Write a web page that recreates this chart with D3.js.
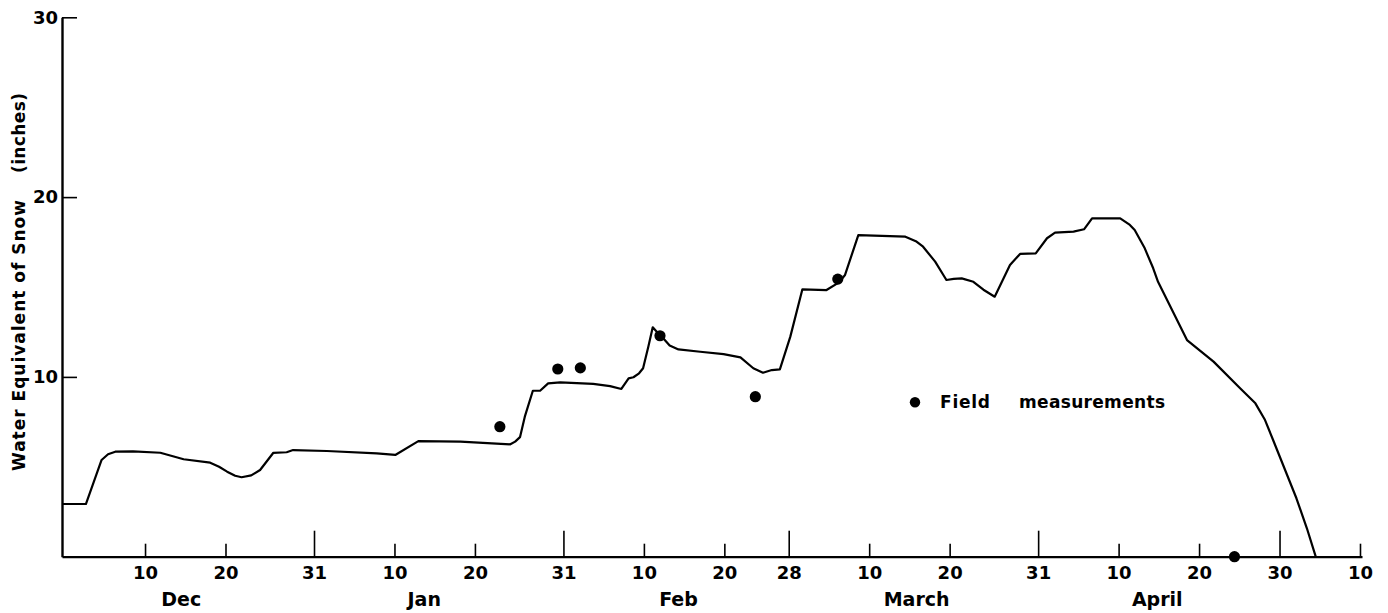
<!DOCTYPE html>
<html>
<head>
<meta charset="utf-8">
<script src="https://cdn.jsdelivr.net/npm/d3@7"></script>
<style>
  html, body { margin: 0; padding: 0; background: #fff; }
  svg { display: block; }
  text { font-family: "DejaVu Sans", sans-serif; font-weight: bold; fill: #000; }
</style>
</head>
<body>
<svg id="chart" width="1388" height="613"></svg>
<script>
// Snow water equivalent, winter 1950–51.
// Days are counted from 30 November (day 10 = 10 Dec, day 31 = 31 Dec, ...).
const sweDays = [
  -0.3, 2.65, 4.6, 5.4, 6.3, 8.5, 11.9, 14.8, 18.1, 19.2, 20.2, 21.2, 22.0, 23.2, 24.3,
  25.95, 27.6, 28.4, 32.6, 38.8, 41.1, 43.97, 49.2, 55.4, 56.0, 56.6, 57.2, 58.2, 59.1,
  60.1, 61.6, 65.7, 67.8, 69.2, 70.1, 70.7, 71.4, 71.9, 72.55, 73.1, 73.6, 74.4, 75.2,
  76.3, 79.0, 81.9, 84.0, 85.6, 86.8, 87.9, 88.9, 90.2, 91.7, 94.7, 96.2, 97.0, 98.65,
  104.5, 105.8, 106.7, 108.2, 109.6, 110.5, 111.5, 112.95, 114.2, 115.6, 117.5, 118.75,
  120.7, 122.1, 123.1, 125.4, 126.7, 127.7, 131.2, 132.4, 133.0, 134.2, 135.3, 135.9,
  139.5, 142.8, 146.1, 148.0, 149.2, 150.2, 153.1, 154.4, 155.5
];
const sweInches = [
  2.93, 2.93, 5.38, 5.70, 5.84, 5.86, 5.78, 5.42, 5.23, 5.00, 4.73, 4.50, 4.42, 4.52, 4.82,
  5.78, 5.81, 5.93, 5.88, 5.75, 5.66, 6.43, 6.40, 6.25, 6.40, 6.65, 7.79, 9.23, 9.23,
  9.64, 9.70, 9.61, 9.49, 9.33, 9.92, 9.98, 10.20, 10.48, 11.68, 12.76, 12.51, 12.15, 11.75,
  11.53, 11.40, 11.27, 11.09, 10.48, 10.23, 10.38, 10.42, 12.24, 14.87, 14.83, 15.24, 15.67, 17.89,
  17.80, 17.55, 17.24, 16.41, 15.39, 15.45, 15.48, 15.29, 14.85, 14.46, 16.22, 16.84,
  16.87, 17.71, 18.02, 18.08, 18.21, 18.82, 18.82, 18.45, 18.17, 17.20, 16.04, 15.29,
  12.05, 10.85, 9.37, 8.53, 7.60, 6.49, 3.25, 1.58, 0
];

// Snow-course field measurements
const fieldDays   = [54.1, 61.3, 64.1, 74.0, 85.85, 96.1, 145.4];
const fieldInches = [7.23, 10.44, 10.50, 12.29, 8.90, 15.44, 0];

// Date axis ticks
const tickDates  = ["1950-12-10", "1950-12-20", "1950-12-31", "1951-01-10", "1951-01-20", "1951-01-31",
                    "1951-02-10", "1951-02-20", "1951-02-28", "1951-03-10", "1951-03-20", "1951-03-31",
                    "1951-04-10", "1951-04-20", "1951-04-30", "1951-05-10"];
const tickLabels = ["10", "20", "31", "10", "20", "31", "10", "20", "28", "10", "20", "31", "10", "20", "30", "10"];

// Month names, placed near mid-month (day counts from 30 November)
const monthNames = ["Dec", "Jan", "Feb", "March", "April"];
const monthDays  = [14.5, 44.7, 76.3, 105.9, 135.8];

const yTicks = [10, 20, 30];

const seasonStart = Date.UTC(1950, 10, 30);
const dayToDate = d => new Date(seasonStart + d * 864e5);

const svg = d3.select("#chart");

const x = d3.scaleUtc()
  .domain([dayToDate(-0.32), dayToDate(161.25)])
  .range([62, 1362]);

const y = d3.scaleLinear()
  .domain([0, 30])
  .range([556.7, 17.3]);

// X axis: ticks point up into the plot, month ends drawn taller
const isMonthEnd = dt => d3.utcDay.offset(dt, 1).getUTCMonth() !== dt.getUTCMonth();
const tickDateObjs = tickDates.map(s => new Date(s + "T00:00:00Z"));

const xAxis = d3.axisBottom(x)
  .tickValues(tickDateObjs)
  .tickFormat((d, i) => tickLabels[i])
  .tickSizeInner(-13)
  .tickSizeOuter(0)
  .tickPadding(10);

const gx = svg.append("g")
  .attr("transform", `translate(0,${y(0)})`)
  .call(xAxis);
gx.select(".domain").attr("stroke", "#000").attr("stroke-width", 2.2);
gx.selectAll(".tick line")
  .attr("stroke", "#000")
  .attr("stroke-width", 1.6)
  .attr("y2", d => isMonthEnd(d) ? -26 : -13);
gx.selectAll(".tick text")
  .attr("font-size", 18)
  .attr("font-family", "\"DejaVu Sans\", sans-serif")
  .attr("font-weight", "bold")
  .attr("fill", "#000");

// Month names
svg.append("g")
  .selectAll("text")
  .data(monthNames)
  .join("text")
  .attr("x", (d, i) => x(dayToDate(monthDays[i])))
  .attr("y", 606)
  .attr("text-anchor", "middle")
  .attr("font-size", 19)
  .text(d => d);

// Y axis: short ticks pointing right
const yAxis = d3.axisLeft(y)
  .tickValues(yTicks)
  .tickFormat(d3.format("d"))
  .tickSizeInner(-15)
  .tickSizeOuter(0)
  .tickPadding(4);

const gy = svg.append("g")
  .attr("transform", "translate(62,0)")
  .call(yAxis);
gy.select(".domain").attr("stroke", "#000").attr("stroke-width", 2.4);
gy.selectAll(".tick line").attr("stroke", "#000").attr("stroke-width", 1.6);
gy.selectAll(".tick text")
  .attr("font-size", 18)
  .attr("font-family", "\"DejaVu Sans\", sans-serif")
  .attr("font-weight", "bold")
  .attr("fill", "#000");

// Y axis title
const title = svg.append("g").attr("transform", "translate(25,0) rotate(-90)");
title.append("text")
  .attr("x", -471)
  .attr("y", 0)
  .attr("font-size", 17)
  .attr("textLength", 271)
  .attr("lengthAdjust", "spacing")
  .text("Water Equivalent of Snow");
title.append("text")
  .attr("x", -173)
  .attr("y", 0)
  .attr("font-size", 17)
  .attr("textLength", 80)
  .attr("lengthAdjust", "spacing")
  .text("(inches)");

// Snow water equivalent curve
const sweData = sweDays.map((d, i) => ({ date: dayToDate(d), v: sweInches[i] }));
const line = d3.line()
  .x(d => x(d.date))
  .y(d => y(d.v))
  .curve(d3.curveLinear);

svg.append("path")
  .datum(sweData)
  .attr("fill", "none")
  .attr("stroke", "#000")
  .attr("stroke-width", 2.2)
  .attr("stroke-linejoin", "round")
  .attr("d", line);

// Field measurement points
const fieldData = fieldDays.map((d, i) => ({ date: dayToDate(d), v: fieldInches[i] }));
svg.append("g")
  .selectAll("circle")
  .data(fieldData)
  .join("circle")
  .attr("cx", d => x(d.date))
  .attr("cy", d => y(d.v))
  .attr("r", 5.6)
  .attr("fill", "#000");

// Legend
const legend = svg.append("g");
legend.append("circle")
  .attr("cx", 915)
  .attr("cy", 402.3)
  .attr("r", 5.2)
  .attr("fill", "#000");
legend.append("text")
  .attr("x", 940)
  .attr("y", 408)
  .attr("font-size", 17)
  .attr("textLength", 50)
  .attr("lengthAdjust", "spacing")
  .text("Field");
legend.append("text")
  .attr("x", 1019)
  .attr("y", 408)
  .attr("font-size", 17)
  .attr("textLength", 146)
  .attr("lengthAdjust", "spacing")
  .text("measurements");
</script>
</body>
</html>
